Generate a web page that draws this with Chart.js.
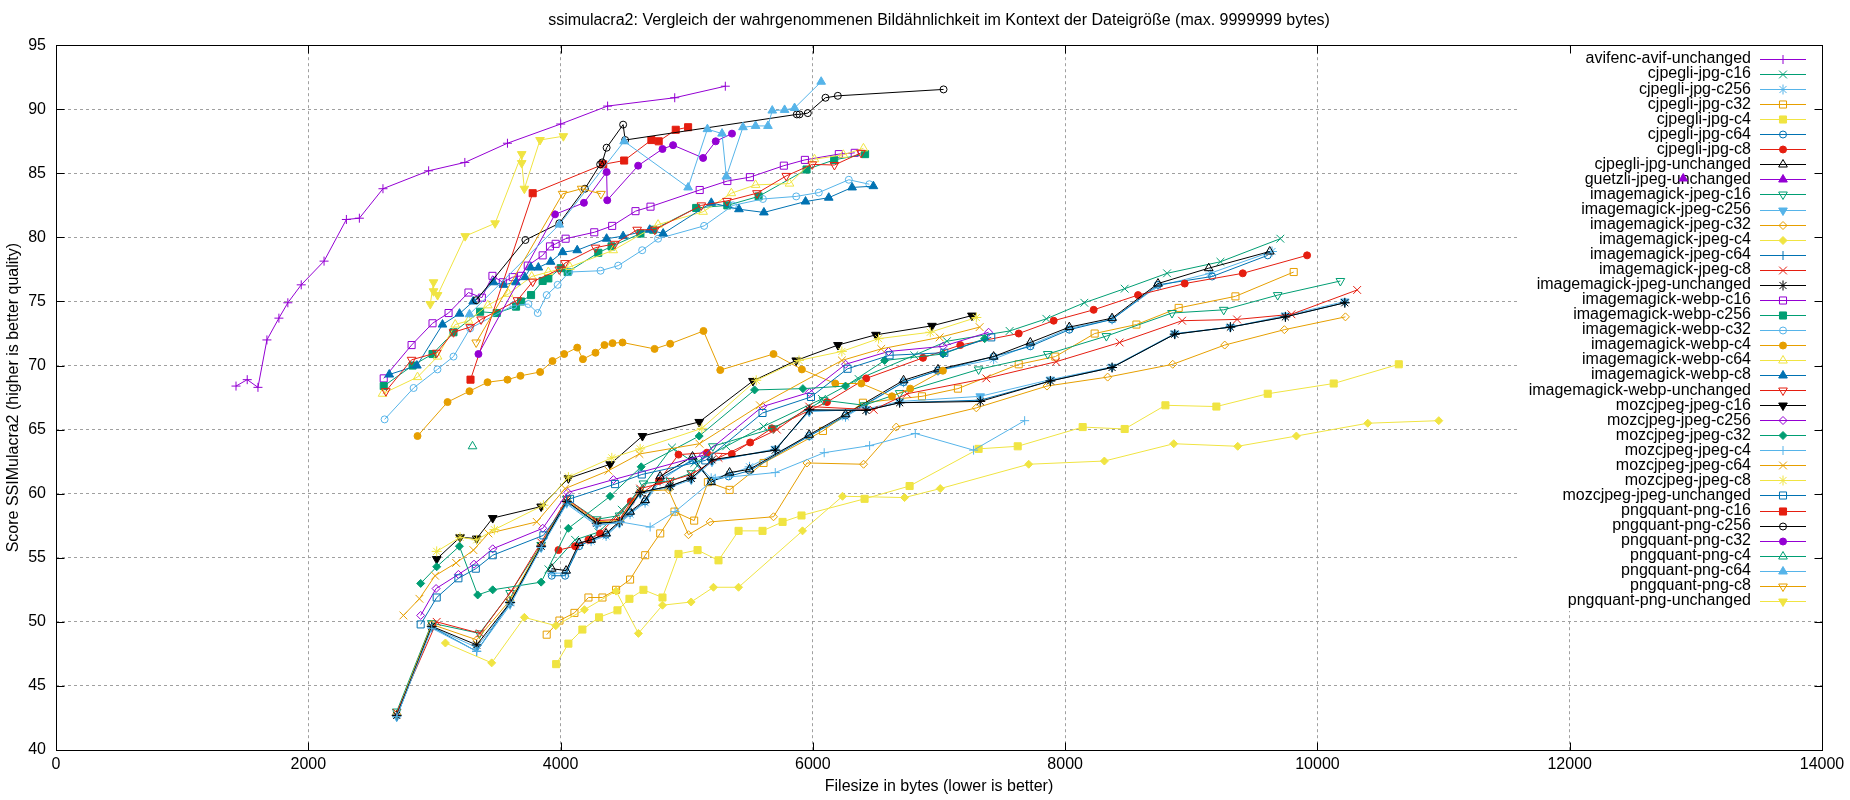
<!DOCTYPE html>
<html>
<head>
<meta charset="utf-8">
<title>ssimulacra2</title>
<script src="https://cdn.jsdelivr.net/npm/chart.js@4.4.1/dist/chart.umd.min.js"></script>
<style>
  html, body { margin: 0; padding: 0; background: #fff; }
  #wrap { width: 1850px; height: 800px; position: relative; }
</style>
</head>
<body>
<div id="wrap"><canvas id="chart"></canvas></div>
<script>
// Werte: [Dateigröße in Bytes, Score]
const avifencAvifUnchanged = [[1427,68.4],[1516,68.9],[1601,68.3],[1672,72.0],[1767,73.7],[1838,74.9],[1944,76.3],[2125,78.15],[2302,81.4],[2405,81.5],[2592,83.8],[2954,85.2],[3241,85.85],[3579,87.35],[4001,88.85],[4373,90.25],[4905,90.9],[5306,91.8]];

const cjpegliJpgC16 = [[3904,54.1],[4115,56.4],[4300,57.0],[4485,58.75],[4631,60.3],[4883,63.6],[5060,62.4],[5313,63.7],[5609,65.25],[6072,67.4],[6363,68.95],[6804,70.8],[7063,71.9],[7560,72.7],[7851,73.65],[8152,74.9],[8472,76.0],[8808,77.2],[9231,78.1],[9706,79.9]];
const cjpegliJpgC256 = [[3930,53.8],[4040,53.8],[4147,56.0],[4242,56.3],[4361,56.7],[4551,58.4],[4670,59.3],[4789,61.0],[5046,62.7],[5194,61.2],[5340,61.5],[5498,62.1],[5971,64.5],[6259,66.0],[6719,68.7],[6992,69.6],[7433,70.5],[7724,71.6],[8033,72.9],[8372,73.6],[8736,76.2],[9150,77.2],[9640,78.9]];
const cjpegliJpgC32 = [[3890,49.0],[3991,50.1],[4110,50.7],[4221,51.9],[4332,51.9],[4440,52.5],[4551,53.3],[4671,55.2],[4790,56.9],[4903,58.6],[5059,57.9],[5168,60.9],[5340,60.3],[5609,62.4],[6080,64.9],[6397,67.1],[6865,67.6],[7150,68.2],[7632,70.1],[7922,70.7],[8234,72.5],[8565,73.2],[8900,74.5],[9350,75.4],[9812,77.3]];
const cjpegliJpgC4 = [[3965,46.7],[4062,48.3],[4173,49.4],[4305,50.35],[4451,50.9],[4546,51.8],[4657,52.5],[4808,51.9],[4935,55.3],[5086,55.6],[5252,54.8],[5411,57.1],[5601,57.1],[5760,57.8],[5910,58.3],[6410,59.6],[6767,60.6],[7314,63.5],[7624,63.7],[8139,65.2],[8472,65.05],[8795,66.9],[9199,66.8],[9606,67.8],[10129,68.6],[10645,70.1]];
const cjpegliJpgC64 = [[3930,53.6],[4036,53.6],[4147,55.9],[4242,56.4],[4361,56.8],[4551,58.5],[4670,59.4],[4789,61.2],[5046,62.6],[5194,61.0],[5332,61.35],[5498,61.8],[5971,64.5],[6259,66.1],[6719,68.7],[6992,69.6],[7433,70.7],[7724,71.5],[8033,72.8],[8372,73.6],[8736,76.3],[9165,76.95],[9606,78.6]];
const cjpegliJpgC8 = [[3983,55.6],[4115,55.9],[4221,56.4],[4313,56.9],[4557,59.4],[4780,61.0],[4935,63.05],[5160,63.2],[5357,63.1],[5503,64.0],[5675,65.1],[6112,67.15],[6423,69.0],[6873,70.6],[7169,71.6],[7632,72.5],[7909,73.5],[8226,74.35],[8578,75.5],[8948,76.4],[9408,77.2],[9918,78.6]];
const cjpegliJpgUnchanged = [[3930,54.15],[4044,54.0],[4147,56.15],[4242,56.4],[4361,56.9],[4551,58.6],[4670,59.5],[4789,61.35],[5046,62.9],[5194,60.9],[5340,61.65],[5498,61.9],[5971,64.6],[6259,66.2],[6719,68.85],[6992,69.7],[7433,70.7],[7724,71.8],[8033,73.0],[8372,73.7],[8736,76.4],[9138,77.6],[9622,78.9]];

const guetzliJpegUnchanged = [[12900,84.6]];

const imagemagickJpegC16 = [[2701,43.0],[2979,49.9],[3357,49.1],[3600,52.25],[3846,56.0],[4049,59.6],[4287,58.0],[4467,58.3],[4657,60.8],[4869,61.0],[5036,61.6],[5207,63.7],[5688,65.1],[6085,67.3],[6408,66.9],[6688,67.85],[7314,69.7],[7862,70.9],[8327,72.3],[8847,74.1],[9257,74.35],[9685,75.5],[10182,76.6]];
const imagemagickJpegC256 = [[2701,42.6],[2979,49.6],[3335,48.0],[3600,51.4],[3846,55.8],[4049,59.3],[4287,57.6],[4467,57.7],[4631,60.0],[4869,60.5],[5036,61.1],[5200,62.5],[5702,63.5],[5971,66.4],[6421,66.6],[6688,67.2],[7327,67.6],[7883,68.9],[8372,69.9],[8869,72.5],[9310,73.0],[9746,73.9],[10217,75.0]];
const imagemagickJpegC32 = [[2701,42.8],[2979,49.8],[3335,48.6],[3600,51.7],[3846,56.0],[4049,59.5],[4287,57.8],[4467,57.9],[4631,60.2],[4856,60.3],[5014,56.8],[5186,57.8],[5688,58.2],[5953,62.4],[6402,62.3],[6661,65.2],[7296,66.7],[7856,68.4],[8337,69.1],[8853,70.1],[9265,71.6],[9738,72.8],[10222,73.8]];
const imagemagickJpegC4 = [[3087,48.35],[3454,46.8],[3713,50.35],[3962,49.7],[4189,50.95],[4440,52.4],[4617,49.1],[4808,51.3],[5035,51.55],[5212,52.7],[5411,52.7],[5918,57.1],[6235,59.8],[6727,59.7],[7010,60.4],[7711,62.3],[8311,62.55],[8861,63.9],[9368,63.7],[9833,64.5],[10399,65.5],[10962,65.7]];
const imagemagickJpegC64 = [[2701,42.6],[2979,49.6],[3335,47.7],[3600,51.5],[3846,55.9],[4049,59.4],[4287,57.7],[4467,57.8],[4631,60.1],[4869,60.6],[5036,61.2],[5200,62.6],[5702,63.4],[5971,66.5],[6421,66.5],[6688,67.1],[7327,67.3],[7883,68.8],[8372,69.85],[8869,72.45],[9310,73.0],[9746,73.8],[10217,74.9]];
const imagemagickJpegC8 = [[2701,42.9],[3018,50.0],[3362,49.1],[3610,52.4],[3846,56.2],[4049,59.6],[4287,57.9],[4467,58.0],[4631,60.4],[4869,61.0],[5036,61.5],[5252,62.8],[5715,65.0],[5971,66.8],[6482,66.55],[6746,67.8],[7375,69.0],[7928,70.3],[8432,71.8],[8927,73.5],[9363,73.6],[9794,74.0],[10315,75.9]];
const imagemagickJpegUnchanged = [[2701,42.7],[2979,49.65],[3335,48.2],[3600,51.5],[3846,55.9],[4049,59.4],[4287,57.7],[4467,57.8],[4631,60.1],[4869,60.6],[5036,61.2],[5200,62.65],[5702,63.4],[5971,66.55],[6421,66.5],[6688,67.1],[7327,67.2],[7883,68.8],[8372,69.85],[8869,72.45],[9310,73.0],[9746,73.8],[10217,74.9]];

const imagemagickWebpC16 = [[2598,69.0],[2819,71.6],[2985,73.3],[3112,74.1],[3270,75.7],[3376,75.3],[3460,77.0],[3542,76.5],[3621,76.9],[3687,77.0],[3740,77.8],[3858,78.6],[3916,79.3],[3961,79.5],[4040,79.9],[4267,80.4],[4409,80.9],[4594,82.05],[4713,82.4],[5103,83.7],[5322,84.4],[5501,84.7],[5770,85.6],[5937,86.05],[6206,86.5],[6332,86.6]];
const imagemagickWebpC256 = [[2598,68.4],[2827,70.0],[2985,70.9],[3151,72.6],[3362,74.2],[3494,74.1],[3647,74.6],[3687,75.0],[3766,75.5],[3858,76.6],[3903,76.8],[4001,77.6],[4056,77.3],[4299,78.8],[4404,79.3],[4633,80.3],[4734,80.6],[5075,82.3],[5322,82.5],[5570,83.2],[5950,85.3],[6169,86.05],[6414,86.5]];
const imagemagickWebpC32 = [[2605,65.8],[2835,68.25],[3024,69.7],[3151,70.7],[3283,72.9],[3626,74.7],[3745,74.8],[3819,74.1],[3890,75.5],[3977,76.3],[4069,77.3],[4317,77.4],[4457,77.8],[4647,79.0],[4773,79.9],[5138,80.9],[5367,82.5],[5604,83.0],[5868,83.2],[6047,83.5],[6285,84.5],[6448,84.15]];
const imagemagickWebpC4 = [[2866,64.5],[3104,67.15],[3278,68.0],[3421,68.7],[3579,68.9],[3682,69.2],[3838,69.5],[3936,70.35],[4029,70.9],[4132,71.4],[4177,70.5],[4277,71.0],[4348,71.6],[4412,71.75],[4491,71.8],[4745,71.3],[4869,71.7],[5133,72.7],[5266,69.65],[5688,70.9],[5913,69.7],[6178,68.6],[6384,68.6],[6627,67.6],[6772,68.2],[7031,69.6]];
const imagemagickWebpC64 = [[2589,67.8],[2866,69.1],[3025,70.7],[3165,73.2],[3270,73.5],[3423,74.7],[3587,75.6],[3771,76.95],[3903,77.3],[4074,77.7],[4417,79.0],[4773,81.0],[5130,82.0],[5354,83.45],[5546,84.1],[5815,84.2],[6013,86.1],[6242,86.45],[6401,86.95]];
const imagemagickWebpC8 = [[2642,69.3],[2861,70.0],[3064,73.2],[3199,74.05],[3307,75.0],[3468,76.5],[3547,76.3],[3647,76.5],[3718,76.9],[3763,77.65],[3824,77.65],[3921,78.1],[4016,78.85],[4132,79.0],[4365,79.9],[4496,80.1],[4707,80.6],[4813,80.3],[5195,82.7],[5414,82.2],[5612,81.95],[5942,82.8],[6126,83.1],[6311,83.9],[6480,84.0]];
const imagemagickWebpUnchanged = [[2615,68.0],[2819,70.45],[3018,71.0],[3151,72.6],[3283,73.0],[3370,73.6],[3658,75.1],[3779,76.55],[3990,77.5],[4035,78.0],[4277,79.2],[4430,79.5],[4607,80.6],[4747,80.6],[5116,82.5],[5319,82.85],[5557,83.45],[5789,84.8],[5995,85.7],[6171,85.65],[6382,86.6]];

const mozcjpegJpegC16 = [[3018,54.9],[3203,56.6],[3335,56.5],[3462,58.1],[3846,59.0],[4062,61.2],[4393,62.3],[4649,64.5],[5099,65.6],[5525,68.8],[5868,70.4],[6199,71.6],[6500,72.4],[6944,73.1],[7261,73.9]];
const mozcjpegJpegC256 = [[2891,50.5],[3013,52.6],[3190,53.7],[3314,54.5],[3462,55.7],[3859,57.3],[4057,60.1],[4419,61.1],[5130,63.0],[5601,66.8],[5972,67.9],[6259,70.1],[6600,71.1],[7031,71.5],[7393,72.6]];
const mozcjpegJpegC32 = [[2891,53.0],[3018,54.3],[3198,55.9],[3343,52.1],[3462,52.5],[3846,53.1],[4062,57.3],[4393,59.8],[4639,62.1],[5099,64.5],[5538,68.1],[5921,68.2],[6259,68.4],[6569,70.4],[7031,70.9],[7362,72.1]];
const mozcjpegJpegC4 = [[2701,42.6],[2979,49.5],[3335,47.7],[3600,51.3],[3846,55.8],[4049,59.2],[4287,57.5],[4472,57.8],[4710,57.4],[4908,58.6],[5226,61.2],[5702,61.65],[6090,63.2],[6450,63.75],[6812,64.7],[7274,63.4],[7679,65.7]];
const mozcjpegJpegC64 = [[2754,50.5],[2881,51.8],[3005,53.6],[3172,54.6],[3309,55.6],[3428,56.9],[3811,57.8],[4036,60.4],[4380,61.8],[4625,63.1],[5101,63.9],[5580,66.9],[6230,70.4],[6542,71.3],[7005,72.2],[7322,73.0]];
const mozcjpegJpegC8 = [[3018,55.5],[3203,56.6],[3335,56.4],[3475,57.2],[3864,59.1],[4062,61.3],[4406,62.8],[4631,63.5],[5120,65.1],[5551,68.85],[5890,70.4],[6230,71.1],[6521,72.1],[6931,72.6],[7296,73.75]];
const mozcjpegJpegUnchanged = [[2891,49.8],[3018,51.9],[3190,53.4],[3328,54.15],[3462,55.2],[3864,56.75],[4075,59.6],[4432,60.75],[4644,61.5],[5147,62.6],[5601,66.3],[5985,67.55],[6275,69.75],[6608,70.8],[7042,71.0],[7414,72.2]];

const pngquantPngC16 = [[3286,68.9],[3779,83.45],[4338,85.7],[4504,86.0],[4720,87.6],[4778,87.5],[4913,88.4],[5011,88.6]];
const pngquantPngC256 = [[3331,75.1],[3721,79.8],[3990,81.1],[4193,83.8],[4314,85.7],[4330,85.85],[4365,87.0],[4496,88.8],[4512,87.6],[5873,89.6],[5894,89.6],[5960,89.7],[6100,90.9],[6198,91.05],[7036,91.55]];
const pngquantPngC32 = [[3349,70.9],[3956,81.8],[4185,82.7],[4365,85.1],[4370,82.9],[4615,85.6],[4808,86.9],[4892,87.2],[5130,86.2],[5230,87.5],[5359,88.1]];
const pngquantPngC4 = [[3302,63.7]];
const pngquantPngC64 = [[3278,74.0],[3990,81.0],[4504,87.5],[5011,83.9],[5164,88.45],[5280,88.1],[5314,84.75],[5446,88.6],[5546,88.7],[5644,88.7],[5678,89.9],[5776,89.95],[5855,90.1],[6066,92.15]];
const pngquantPngC8 = [[3331,71.8],[4016,83.4],[4167,83.8],[4320,83.4]];
const pngquantPngUnchanged = [[2967,74.8],[2993,76.5],[2993,75.8],[3025,75.5],[3244,80.1],[3481,81.1],[3692,86.5],[3692,85.8],[3713,83.8],[3837,87.6],[4022,87.9]];

const seriesNames = [
  'avifenc-avif-unchanged', 'cjpegli-jpg-c16', 'cjpegli-jpg-c256', 'cjpegli-jpg-c32',
  'cjpegli-jpg-c4', 'cjpegli-jpg-c64', 'cjpegli-jpg-c8', 'cjpegli-jpg-unchanged',
  'guetzli-jpeg-unchanged', 'imagemagick-jpeg-c16', 'imagemagick-jpeg-c256', 'imagemagick-jpeg-c32',
  'imagemagick-jpeg-c4', 'imagemagick-jpeg-c64', 'imagemagick-jpeg-c8', 'imagemagick-jpeg-unchanged',
  'imagemagick-webp-c16', 'imagemagick-webp-c256', 'imagemagick-webp-c32', 'imagemagick-webp-c4',
  'imagemagick-webp-c64', 'imagemagick-webp-c8', 'imagemagick-webp-unchanged',
  'mozcjpeg-jpeg-c16', 'mozcjpeg-jpeg-c256', 'mozcjpeg-jpeg-c32', 'mozcjpeg-jpeg-c4',
  'mozcjpeg-jpeg-c64', 'mozcjpeg-jpeg-c8', 'mozcjpeg-jpeg-unchanged',
  'pngquant-png-c16', 'pngquant-png-c256', 'pngquant-png-c32', 'pngquant-png-c4',
  'pngquant-png-c64', 'pngquant-png-c8', 'pngquant-png-unchanged'
];
const seriesValues = [
  avifencAvifUnchanged, cjpegliJpgC16, cjpegliJpgC256, cjpegliJpgC32,
  cjpegliJpgC4, cjpegliJpgC64, cjpegliJpgC8, cjpegliJpgUnchanged,
  guetzliJpegUnchanged, imagemagickJpegC16, imagemagickJpegC256, imagemagickJpegC32,
  imagemagickJpegC4, imagemagickJpegC64, imagemagickJpegC8, imagemagickJpegUnchanged,
  imagemagickWebpC16, imagemagickWebpC256, imagemagickWebpC32, imagemagickWebpC4,
  imagemagickWebpC64, imagemagickWebpC8, imagemagickWebpUnchanged,
  mozcjpegJpegC16, mozcjpegJpegC256, mozcjpegJpegC32, mozcjpegJpegC4,
  mozcjpegJpegC64, mozcjpegJpegC8, mozcjpegJpegUnchanged,
  pngquantPngC16, pngquantPngC256, pngquantPngC32, pngquantPngC4,
  pngquantPngC64, pngquantPngC8, pngquantPngUnchanged
];

const xTickValues = [0, 2000, 4000, 6000, 8000, 10000, 12000, 14000];
const yTickValues = [40, 45, 50, 55, 60, 65, 70, 75, 80, 85, 90, 95];

// gnuplot Standardfarben und Punkttypen (wiederholen sich)
const lineColors = ['#9400d3', '#009e73', '#56b4e9', '#e69f00', '#f0e442', '#0072b2', '#e51e10', '#000000'];
const markers = [
  { style: 'cross', fill: false, r: 4.5 },
  { style: 'crossRot', fill: false, r: 5.5 },
  { style: 'star', fill: false, r: 5 },
  { style: 'rect', fill: false, r: 5 },
  { style: 'rect', fill: true, r: 5 },
  { style: 'circle', fill: false, r: 3.5 },
  { style: 'circle', fill: true, r: 3.5 },
  { style: 'triangle', fill: false, r: 5 },
  { style: 'triangle', fill: true, r: 5 },
  { style: 'triangle', rot: 180, fill: false, r: 5 },
  { style: 'triangle', rot: 180, fill: true, r: 5 },
  { style: 'rectRot', fill: false, r: 4 },
  { style: 'rectRot', fill: true, r: 4 }
];

const fontFamily = '"Liberation Sans", Arial, sans-serif';
Chart.defaults.font.family = fontFamily;
Chart.defaults.font.size = 16;
Chart.defaults.color = '#000';

let datasets = seriesValues.map((values, i) => {
  let color = lineColors[i % lineColors.length];
  let m = markers[i % markers.length];
  return {
    label: seriesNames[i],
    data: values.map(p => ({ x: p[0], y: p[1] })),
    showLine: true,
    borderColor: color,
    borderWidth: 1,
    pointStyle: m.style,
    pointRotation: m.rot || 0,
    pointRadius: m.r,
    pointHoverRadius: m.r,
    pointBorderWidth: 1,
    pointBorderColor: color,
    pointBackgroundColor: m.fill ? color : 'rgba(0,0,0,0)',
    order: seriesValues.length - i
  };
});

// Legende im gnuplot-Stil (rechts oben im Plotbereich)
const key = { left: 1517, bottom: 610, first: 59, step: 15.05, textRight: 1751, lineFrom: 1760, lineTo: 1806 };

const gnuplotFrame = {
  id: 'gnuplotFrame',
  beforeDatasetsDraw(chart) {
    const ctx = chart.ctx;
    const a = chart.chartArea;
    ctx.save();
    ctx.fillStyle = '#fff';
    ctx.fillRect(key.left, a.top + 1, a.right - key.left - 1, key.bottom - a.top);
    ctx.font = '16px ' + fontFamily;
    ctx.textAlign = 'right';
    ctx.textBaseline = 'middle';
    chart.data.datasets.forEach((ds, i) => {
      const y = key.first + i * key.step;
      ctx.fillStyle = '#000';
      ctx.fillText(ds.label, key.textRight, y);
      ctx.strokeStyle = ds.borderColor;
      ctx.lineWidth = 1;
      ctx.beginPath();
      ctx.moveTo(key.lineFrom, Math.round(y) + 0.5);
      ctx.lineTo(key.lineTo, Math.round(y) + 0.5);
      ctx.stroke();
      ctx.fillStyle = ds.pointBackgroundColor;
      Chart.helpers.drawPoint(ctx, {
        pointStyle: ds.pointStyle, rotation: ds.pointRotation,
        radius: ds.pointRadius, borderWidth: 1
      }, (key.lineFrom + key.lineTo) / 2, Math.round(y) + 0.5);
    });
    ctx.restore();
  },
  afterDraw(chart) {
    const ctx = chart.ctx;
    const a = chart.chartArea;
    const xs = chart.scales.x, ys = chart.scales.y;
    const L = Math.round(a.left) + 0.5, R = Math.round(a.right) + 0.5;
    const T = Math.round(a.top) + 0.5, B = Math.round(a.bottom) + 0.5;
    ctx.save();
    ctx.strokeStyle = '#000';
    ctx.lineWidth = 1;
    ctx.beginPath();
    xTickValues.forEach(v => {
      const px = Math.round(xs.getPixelForValue(v)) + 0.5;
      ctx.moveTo(px, B); ctx.lineTo(px, B - 8);
      ctx.moveTo(px, T); ctx.lineTo(px, T + 8);
    });
    yTickValues.forEach(v => {
      const py = Math.round(ys.getPixelForValue(v)) + 0.5;
      ctx.moveTo(L, py); ctx.lineTo(L + 8, py);
      ctx.moveTo(R, py); ctx.lineTo(R - 8, py);
    });
    ctx.stroke();
    ctx.strokeRect(L, T, R - L, B - T);
    ctx.restore();
  }
};

let ctx = document.getElementById('chart').getContext('2d');
let chart = new Chart(ctx, {
  type: 'scatter',
  data: { datasets: datasets },
  options: {
    responsive: true,
    maintainAspectRatio: false,
    animation: false,
    devicePixelRatio: 1,
    layout: { padding: { left: 0, right: 28, top: 0, bottom: 0 } },
    plugins: {
      legend: { display: false },
      tooltip: { enabled: false },
      title: {
        display: true,
        text: 'ssimulacra2: Vergleich der wahrgenommenen Bildähnlichkeit im Kontext der Dateigröße (max. 9999999 bytes)',
        fullSize: false,
        color: '#000',
        font: { size: 16, weight: 'normal' },
        padding: { top: 11, bottom: 15 }
      }
    },
    scales: {
      x: {
        type: 'linear',
        min: 0,
        max: 14000,
        afterBuildTicks: s => { s.ticks = xTickValues.map(v => ({ value: v })); },
        afterFit: s => { s.height = 50; },
        ticks: { autoSkip: false, maxRotation: 0, padding: 5, color: '#000', callback: v => String(v) },
        grid: { color: '#a0a0a0', lineWidth: 1, drawTicks: false },
        border: { display: false, dash: [3, 3] },
        title: { display: true, text: 'Filesize in bytes (lower is better)', color: '#000', padding: { top: 0, bottom: 4 } }
      },
      y: {
        type: 'linear',
        min: 40,
        max: 95,
        afterBuildTicks: s => { s.ticks = yTickValues.map(v => ({ value: v })); },
        afterFit: s => { s.width = 56; },
        ticks: { autoSkip: false, padding: 10, color: '#000', callback: v => String(v) },
        grid: { color: '#a0a0a0', lineWidth: 1, drawTicks: false },
        border: { display: false, dash: [3, 3] },
        title: { display: true, text: 'Score SSIMulacra2 (higher is better quality)', color: '#000', padding: { top: 4, bottom: 0 } }
      }
    }
  },
  plugins: [gnuplotFrame]
});
</script>
</body>
</html>
